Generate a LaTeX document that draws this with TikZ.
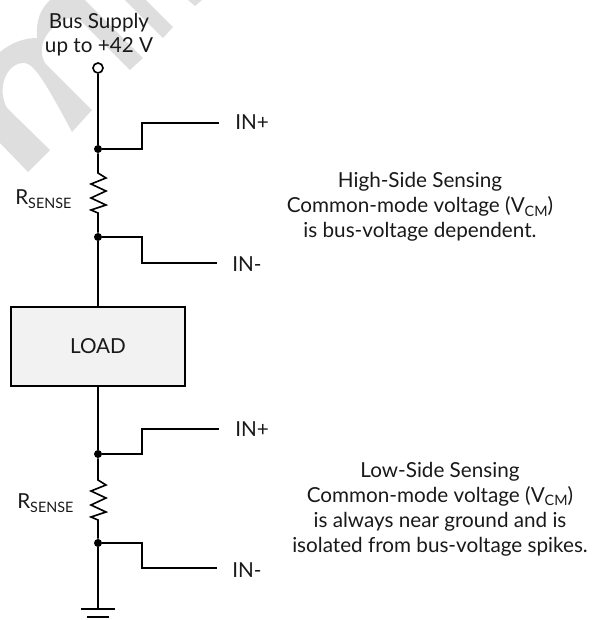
\documentclass[tikz,border=0pt]{standalone}
\usepackage{fontspec}
\setmainfont{Lato}
\newcommand{\subtext}[1]{\raisebox{-0.35ex}{\fontsize{10.2}{12}\selectfont #1}}
\definecolor{markgray}{HTML}{DEDEDE}
\definecolor{loadgray}{HTML}{F2F2F2}
\tikzset{
wire/.style={line width=1.15pt,black},
label/.style={font=\fontsize{14.7}{17.8}\selectfont,text=black!90,inner sep=0pt},
note/.style={label,align=center},
dotnode/.style={circle,fill=black,inner sep=0pt,minimum size=0.2cm},
opennode/.style={circle,draw=black,line width=1.15pt,fill=white,inner sep=0pt,minimum size=0.25cm},
loadbox/.style={rectangle,draw=black,line width=1.5pt,fill=loadgray,minimum width=4.35cm,minimum height=1.975cm,inner sep=0pt}
}

\begin{document}
\begin{tikzpicture}[x=0.025cm,y=-0.025cm]
\useasboundingbox (0,0) rectangle (592,620);
\fill[markgray] (0,143)--(28,172)--(50,150)--(7,108) .. controls (-3,90) and (5,65) .. (22,63) .. controls (32,62) and (40,72) .. (72,132)--(92,110)--(45,63) .. controls (35,45) and (50,28) .. (60,22) .. controls (70,15) and (78,18) .. (84,24)--(130,70)--(143,58)--(85,0)--(50,0) .. controls (40,10) and (36,20) .. (37,38) .. controls (25,38) and (12,42) .. (0,52)--cycle;
\fill[markgray] (125,0)--(163,38)--(173,27)--(146,0)--cycle;
\fill[markgray] (188,0)--(195,6)--(202,0)--cycle;

\node[opennode] (bus) at (98,68) {};
\node[dotnode] (hiA) at (98,149) {};
\node[dotnode] (hiB) at (98,237) {};
\node[loadbox] (load) at (98,346.5) {};
\node[dotnode] (loA) at (98,454) {};
\node[dotnode] (loB) at (98,543) {};
\coordinate (gnd) at (98,609);
\coordinate (hiP) at (219,123);
\coordinate (hiM) at (217,263);
\coordinate (loP) at (219,429);
\coordinate (loM) at (217,568);

\node[label] (supplyA) at (99,23) {Bus Supply};
\node[label] (supplyB) at (99,47) {up to +42 V};
\node[label,anchor=west] (hiPlus) at (235,122) {IN+};
\node[label,anchor=west] (hiMinus) at (232,264) {IN-};
\node[label,anchor=west] (loPlus) at (235,429) {IN+};
\node[label,anchor=west] (loMinus) at (232,570) {IN-};
\node[label,anchor=west] (hiSense) at (15,199) {R\subtext{SENSE}};
\node[label,anchor=west] (loSense) at (17,503) {R\subtext{SENSE}};
\node[label] (loadText) at (98,346) {LOAD};
\node[note] (hiNote) at (420,207) {High-Side Sensing\\Common-mode voltage (V\subtext{CM})\\is bus-voltage dependent.};
\node[note] (loNote) at (440,509) {Low-Side Sensing\\Common-mode voltage (V\subtext{CM})\\is always near ground and is\\isolated from bus-voltage spikes.};

\draw[wire] (bus)--(hiA);
\draw[wire] (hiA)--++(44,0)|-(hiP);
\draw[wire] (hiA)--(98,173)--(106,178)--(91,184)--(106,191)--(91,198)--(106,205)--(91,210)--(98,213)--(hiB);
\draw[wire] (hiB)--++(44,0)|-(hiM);
\draw[wire] (hiB)--(load);
\draw[wire] (load)--(loA);
\draw[wire] (loA)--++(44,0)|-(loP);
\draw[wire] (loA)--(98,480)--(106,485)--(91,491)--(106,498)--(91,505)--(106,512)--(91,517)--(98,520)--(loB);
\draw[wire] (loB)--++(44,0)|-(loM);
\draw[wire] (loB)--(gnd);
\draw[wire] (gnd)++(-17,0)--++(34,0);
\draw[wire] (gnd)++(-11,8)--++(22,0);
\end{tikzpicture}
\end{document}
